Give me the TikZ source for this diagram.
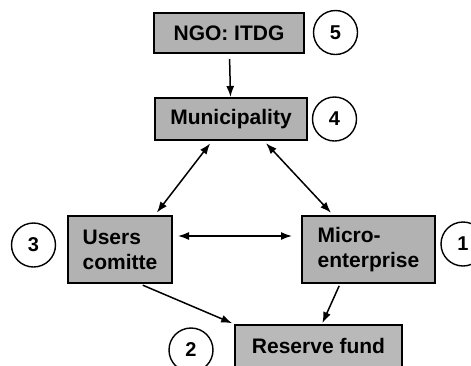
\documentclass[tikz,border=0pt]{standalone}
\usepackage{fontspec}
\setmainfont{Liberation Sans}
\usetikzlibrary{arrows.meta}

\begin{document}
\begin{tikzpicture}[x=1pt, y=-1pt,
	box/.style={draw, line width=2pt, fill=gray!60, inner sep=0pt,
		font=\fontsize{21}{25}\selectfont\bfseries},
	num/.style={draw, circle, line width=1.4pt, minimum size=44pt, inner sep=0pt,
		font=\fontsize{20}{22}\selectfont\bfseries},
	link/.style={line width=1.5pt, -{Latex[length=11pt,width=8pt]}},
	both/.style={line width=1.5pt, {Latex[length=11pt,width=8pt]}-{Latex[length=11pt,width=8pt]}}]
	\useasboundingbox (0,0) rectangle (471,365);
	\clip (0,0) rectangle (471,365);

	\node[box, minimum width=150pt, minimum height=40pt] (ngo) at (229,33) {NGO: ITDG};
	\node[box, minimum width=152pt, minimum height=42pt] (muni) at (231,119) {Municipality};
	\node[box, minimum width=104pt, minimum height=67pt, align=left] (users) at (120,249.5) {Users\\comitte};
	\node[box, minimum width=133pt, minimum height=67pt, align=left] (micro) at (368.5,249.5) {Micro-\\enterprise};
	\node[box, fill=gray!55, minimum width=167pt, minimum height=42pt] (fund) at (318.5,346) {Reserve fund};

	\node[num] (n5) at (335.5,32.5) {5};
	\node[num] (n4) at (334.5,119) {4};
	\node[num] (n3) at (33.5,245) {3};
	\node[num] (n1) at (463,244) {1};
	\node[num] (n2) at (191,350) {2};

	% connectors
	\draw[link, shorten <=5pt] (ngo) -- (muni);
	\draw[both, shorten <=3pt, shorten >=3pt] ([xshift=-19pt]muni.south) -- ([xshift=35pt]users.north);
	\draw[both, shorten <=3pt, shorten >=3pt] ([xshift=33pt]muni.south) -- ([xshift=-35.5pt]micro.north);
	\draw[both, shorten <=5pt, shorten >=9pt] ([yshift=13.5pt]users.east) -- ([yshift=13.5pt]micro.west);
	\draw[link, shorten <=3pt, shorten >=2pt] ([xshift=20pt]users.south) -- (fund.north west);
	\draw[link, shorten <=2pt, shorten >=1pt] ([xshift=-28.5pt]micro.south) -- ([xshift=3.5pt]fund.north);
\end{tikzpicture}
\end{document}
